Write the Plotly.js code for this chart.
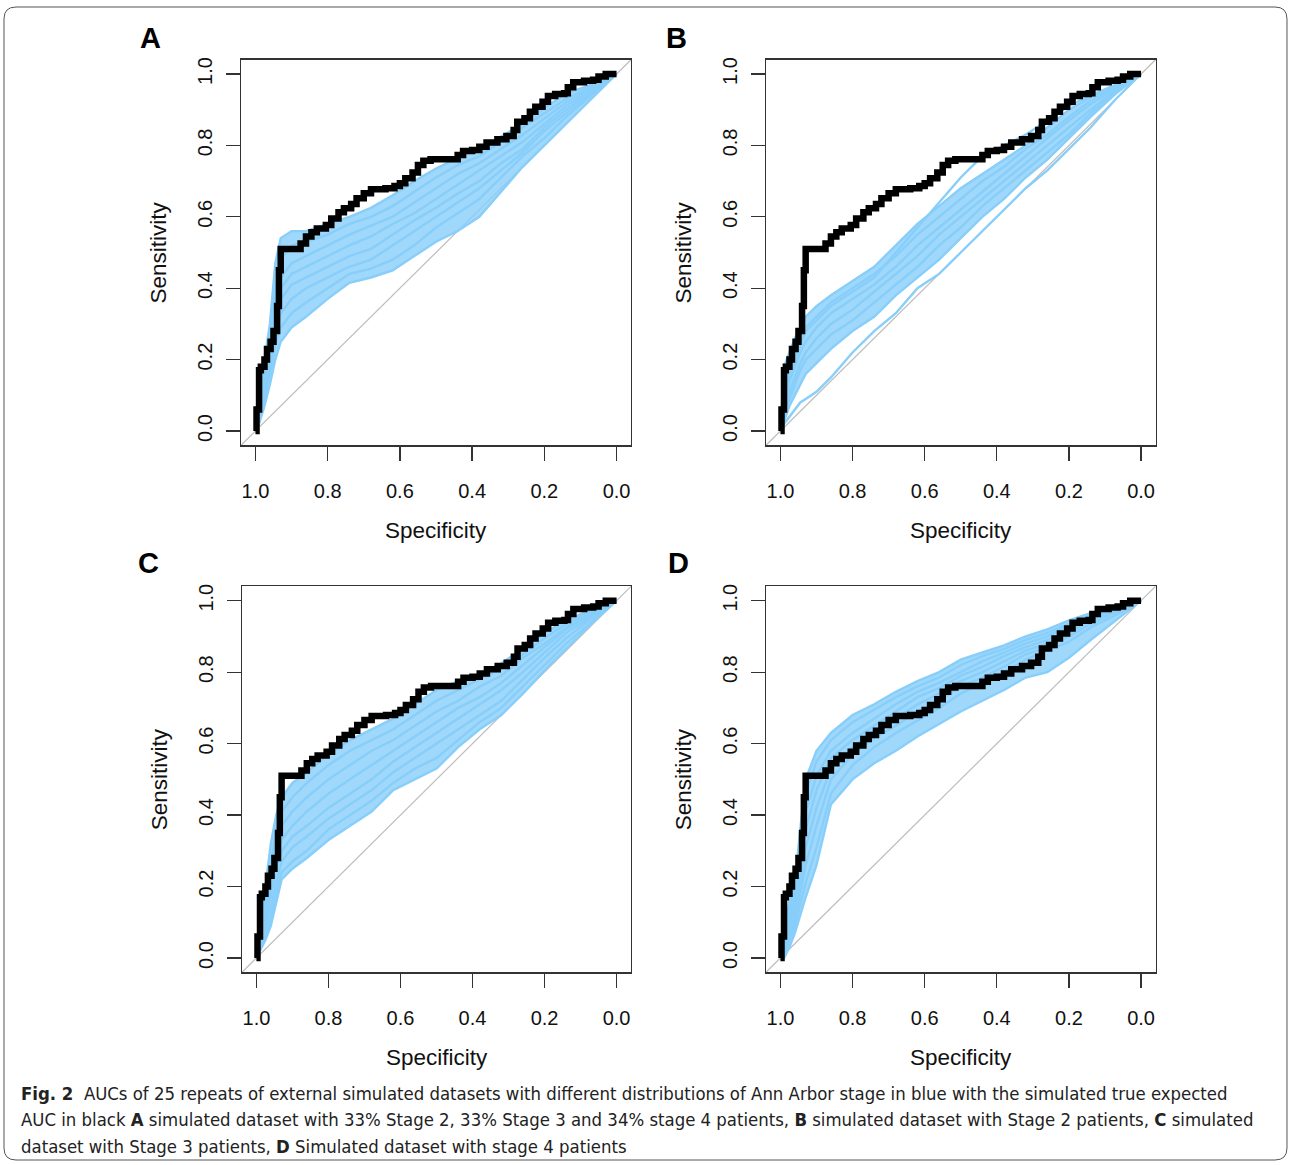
<!DOCTYPE html>
<html>
<head>
<meta charset="utf-8">
<script src="https://cdn.plot.ly/plotly-3.0.1.min.js"></script>
<style>
html,body{margin:0;padding:0;background:#fff;}
#chart{width:1290px;height:1165px;}
</style>
</head>
<body>
<div id="chart"></div>
<script>
// ---------- DATA ----------
const tickVals = [0, 0.2, 0.4, 0.6, 0.8, 1.0];
const tickLabels = ['0.0', '0.2', '0.4', '0.6', '0.8', '1.0'];
const panelLabels = ['A', 'B', 'C', 'D'];
const xTitle = 'Specificity';
const yTitle = 'Sensitivity';

// simulated true expected ROC (black) - same in every panel
const blackSpec = [1.0,0.997,0.99,0.985,0.975,0.968,0.958,0.95,0.94,0.935,0.93,0.89,0.875,0.86,0.845,0.83,0.805,0.79,0.77,0.755,0.735,0.72,0.70,0.68,0.64,0.615,0.60,0.585,0.565,0.55,0.535,0.515,0.465,0.44,0.425,0.40,0.38,0.36,0.33,0.305,0.285,0.275,0.255,0.24,0.225,0.205,0.19,0.17,0.145,0.135,0.12,0.09,0.065,0.05,0.03,0.0];
const blackSens = [0.0,0.06,0.17,0.18,0.20,0.23,0.25,0.28,0.35,0.45,0.51,0.51,0.525,0.545,0.557,0.567,0.577,0.595,0.613,0.624,0.636,0.652,0.666,0.677,0.68,0.686,0.694,0.708,0.724,0.745,0.757,0.761,0.761,0.773,0.784,0.787,0.796,0.808,0.817,0.826,0.843,0.866,0.876,0.894,0.908,0.922,0.938,0.944,0.946,0.963,0.977,0.981,0.984,0.993,1.0,1.0];

// specificity positions at which the simulated (blue) curves were read
const specGrid = [1.00,0.99,0.975,0.96,0.945,0.93,0.90,0.86,0.80,0.74,0.68,0.62,0.56,0.50,0.44,0.38,0.32,0.26,0.20,0.14,0.07,0.00];

// Panel A: 33% Stage 2, 33% Stage 3, 34% Stage 4
const sensA = [
 [0,.11,.20,.30,.47,.54,.56,.56,.58,.60,.625,.66,.70,.735,.765,.79,.825,.86,.905,.945,.97,1],
 [0,.08,.17,.26,.40,.48,.52,.53,.55,.58,.60,.63,.67,.71,.745,.77,.81,.85,.89,.93,.965,1],
 [0,.06,.15,.24,.36,.43,.47,.49,.52,.55,.575,.60,.64,.68,.72,.75,.79,.83,.875,.92,.96,1],
 [0,.05,.13,.22,.33,.40,.44,.46,.49,.52,.545,.58,.61,.65,.69,.73,.77,.81,.86,.91,.955,1],
 [0,.04,.12,.20,.30,.37,.41,.43,.46,.49,.51,.55,.59,.625,.665,.70,.75,.79,.85,.90,.95,1],
 [0,.03,.10,.18,.27,.33,.37,.40,.43,.46,.48,.52,.56,.60,.64,.68,.73,.78,.84,.89,.945,1],
 [0,.03,.09,.16,.24,.29,.33,.36,.40,.44,.455,.48,.52,.57,.61,.65,.71,.77,.82,.88,.94,1],
 [0,.02,.07,.13,.20,.25,.29,.32,.37,.415,.43,.45,.49,.53,.56,.60,.67,.74,.80,.86,.93,1]
];
// Panel B: Stage 2 patients
const sensB = [
 [0,.18,.22,.26,.29,.32,.35,.38,.42,.46,.52,.58,.63,.68,.72,.76,.80,.85,.90,.935,.97,1],
 [0,.12,.18,.22,.26,.29,.32,.36,.40,.44,.49,.55,.60,.65,.70,.74,.79,.83,.88,.925,.965,1],
 [0,.08,.14,.18,.22,.25,.29,.33,.37,.41,.46,.52,.57,.62,.67,.72,.77,.82,.87,.915,.96,1],
 [0,.06,.11,.15,.19,.22,.26,.30,.34,.39,.44,.49,.55,.60,.65,.70,.75,.80,.85,.90,.955,1],
 [0,.05,.09,.13,.17,.20,.23,.27,.31,.36,.41,.46,.52,.57,.63,.68,.73,.78,.83,.89,.95,1],
 [0,.03,.07,.10,.13,.16,.19,.23,.28,.32,.38,.43,.48,.54,.60,.65,.71,.76,.82,.88,.945,1]
];
const sensBextra = [
 [0,.02,.04,.06,.08,.09,.11,.15,.22,.28,.33,.40,.44,.50,.56,.62,.68,.73,.79,.85,.93,1],
 [0,.10,.16,.20,.24,.28,.31,.35,.39,.43,.50,.57,.64,.71,.77,.80,.83,.87,.91,.94,.97,1]
];
// Panel C: Stage 3 patients
const sensC = [
 [0,.10,.20,.32,.40,.45,.49,.52,.57,.61,.64,.67,.71,.75,.775,.795,.825,.865,.91,.945,.975,1],
 [0,.08,.17,.27,.36,.41,.45,.49,.54,.58,.61,.64,.68,.72,.75,.78,.81,.85,.895,.935,.97,1],
 [0,.07,.14,.23,.32,.37,.41,.45,.50,.54,.58,.61,.65,.69,.72,.76,.79,.84,.88,.925,.965,1],
 [0,.06,.12,.20,.28,.33,.37,.41,.46,.50,.54,.58,.62,.66,.70,.73,.77,.82,.87,.92,.96,1],
 [0,.05,.10,.17,.25,.30,.34,.37,.42,.46,.50,.55,.59,.63,.67,.71,.75,.80,.855,.91,.955,1],
 [0,.04,.08,.14,.21,.27,.31,.34,.39,.43,.47,.52,.56,.60,.64,.68,.72,.78,.84,.895,.95,1],
 [0,.03,.06,.11,.18,.24,.27,.30,.36,.40,.44,.49,.53,.56,.61,.66,.70,.76,.82,.88,.94,1],
 [0,.02,.05,.09,.16,.22,.25,.28,.33,.37,.41,.47,.50,.53,.59,.64,.68,.74,.805,.865,.935,1]
];
// Panel D: Stage 4 patients
const sensD = [
 [0,.08,.16,.21,.36,.50,.58,.63,.68,.71,.745,.775,.80,.835,.855,.875,.90,.92,.945,.965,.985,1],
 [0,.06,.13,.19,.32,.46,.55,.61,.66,.695,.73,.76,.785,.82,.845,.865,.89,.91,.935,.96,.98,1],
 [0,.05,.11,.17,.28,.41,.51,.58,.63,.67,.71,.745,.77,.80,.83,.855,.88,.90,.93,.955,.978,1],
 [0,.04,.09,.15,.25,.36,.47,.56,.61,.65,.69,.73,.755,.79,.815,.845,.87,.89,.92,.95,.975,1],
 [0,.03,.08,.13,.21,.31,.42,.53,.59,.635,.67,.71,.74,.775,.80,.83,.86,.88,.91,.945,.972,1],
 [0,.02,.06,.11,.18,.26,.37,.50,.57,.615,.65,.69,.72,.76,.785,.815,.85,.87,.90,.935,.968,1],
 [0,.01,.05,.09,.15,.21,.31,.46,.54,.59,.63,.665,.70,.74,.77,.80,.835,.86,.885,.925,.96,1],
 [0,0,.03,.07,.12,.17,.26,.43,.50,.545,.58,.62,.655,.69,.72,.75,.785,.80,.84,.89,.945,1]
];

const captionLines = [
 '<b>Fig. 2</b>  AUCs of 25 repeats of external simulated datasets with different distributions of Ann Arbor stage in blue with the simulated true expected',
 'AUC in black <b>A</b> simulated dataset with 33% Stage 2, 33% Stage 3 and 34% stage 4 patients, <b>B</b> simulated dataset with Stage 2 patients, <b>C</b> simulated',
 'dataset with Stage 3 patients, <b>D</b> Simulated dataset with stage 4 patients'
];

// ---------- LAYOUT / DRAW ----------
const W = 1290, H = 1165;
const px = v => v / W;
const py = v => 1 - v / H;
const BLUE = '#87CEFA';
const FONT = 'Liberation Sans, Arial, Helvetica, sans-serif';

const panels = [
  {band: sensA, extra: [], xd: [px(241), px(631)], yd: [py(445.3), py(59.7)], lab: [150, 38], top: true},
  {band: sensB, extra: sensBextra, xd: [px(766), px(1155.5)], yd: [py(445.3), py(59.7)], lab: [676, 38], top: true},
  {band: sensC, extra: [], xd: [px(242), px(631)], yd: [py(972.3), py(586.4)], lab: [148, 563], top: false},
  {band: sensD, extra: [], xd: [px(766), px(1155.5)], yd: [py(972.3), py(586.4)], lab: [678, 563], top: false}
];

const traces = [];
const layout = {
  width: W, height: H,
  margin: {l: 0, r: 0, t: 0, b: 0},
  paper_bgcolor: '#fff', plot_bgcolor: '#fff',
  showlegend: false,
  font: {family: FONT, color: '#111'},
  annotations: [], shapes: []
};

panels.forEach((p, i) => {
  const n = i + 1;
  const xk = n === 1 ? 'x' : 'x' + n;
  const yk = n === 1 ? 'y' : 'y' + n;
  const xa = n === 1 ? 'xaxis' : 'xaxis' + n;
  const ya = n === 1 ? 'yaxis' : 'yaxis' + n;
  const common = {
    tickmode: 'array', tickvals: tickVals, ticktext: tickLabels,
    ticks: 'outside', ticklen: 14, tickwidth: 1.3, tickcolor: '#333',
    tickfont: {family: FONT, size: 20, color: '#111'},
    showline: true, mirror: true, linecolor: '#333', linewidth: 1.3,
    showgrid: false, zeroline: false, fixedrange: true
  };
  layout[xa] = Object.assign({}, common, {domain: p.xd, range: [1.04, -0.04], anchor: yk, ticklabelstandoff: 13});
  layout[ya] = Object.assign({}, common, {domain: p.yd, range: [-0.04, 1.04], anchor: xk, tickangle: -90, ticklabelstandoff: 6});

  // diagonal reference
  layout.shapes.push({type: 'line', xref: xk + ' domain', yref: yk + ' domain', x0: 0, y0: 0, x1: 1, y1: 1,
    line: {color: '#bdbdbd', width: 1.2}, layer: 'below'});

  // band fill between the lowest and highest of the read curves
  const hi = specGrid.map((_, k) => Math.max(...p.band.map(c => c[k])));
  const lo = specGrid.map((_, k) => Math.min(...p.band.map(c => c[k])));
  traces.push({x: specGrid.concat(specGrid.slice().reverse()), y: hi.concat(lo.slice().reverse()),
    xaxis: xk, yaxis: yk, type: 'scatter', mode: 'lines', fill: 'toself',
    fillcolor: 'rgba(135,206,250,0.8)', line: {width: 0}, hoverinfo: 'skip'});
  p.band.concat(p.extra).forEach(c => {
    traces.push({x: specGrid, y: c, xaxis: xk, yaxis: yk, type: 'scatter', mode: 'lines',
      line: {color: BLUE, width: 2.4}, hoverinfo: 'skip'});
  });
  traces.push({x: blackSpec, y: blackSens, xaxis: xk, yaxis: yk, type: 'scatter', mode: 'lines',
    line: {color: '#000', width: 6.5, shape: 'hv'}, hoverinfo: 'skip'});

  // axis titles
  layout.annotations.push({text: xTitle, xref: xk, x: 0.5, yref: 'paper', y: py(p.top ? 531 : 1057),
    showarrow: false, xanchor: 'center', yanchor: 'middle', font: {family: FONT, size: 22.5, color: '#111'}});
  const yCenter = p.xd[0] * W - 83;
  layout.annotations.push({text: yTitle, xref: 'paper', x: px(yCenter), yref: yk, y: 0.5, textangle: -90,
    showarrow: false, xanchor: 'center', yanchor: 'middle', font: {family: FONT, size: 22.5, color: '#111'}});
  // panel letter
  layout.annotations.push({text: '<b>' + panelLabels[i] + '</b>', xref: 'paper', yref: 'paper',
    x: px(p.lab[0]), y: py(p.lab[1]), showarrow: false, xanchor: 'center', yanchor: 'middle',
    font: {family: FONT, size: 29, color: '#000'}});
});

// caption
const capY = [1093, 1119, 1146];
captionLines.forEach((t, k) => {
  layout.annotations.push({text: t, xref: 'paper', yref: 'paper', x: px(19), y: py(capY[k]),
    xanchor: 'left', yanchor: 'middle', showarrow: false, align: 'left',
    font: {family: 'DejaVu Sans Condensed, Open Sans, sans-serif', size: 18.4, color: '#222'}});
});

// rounded outer frame
(function () {
  const l = 4, t = 7, r = 1287, b = 1160, rad = 12;
  const X = v => px(v).toFixed(5), Y = v => py(v).toFixed(5);
  const path = `M ${X(l + rad)} ${Y(t)} L ${X(r - rad)} ${Y(t)} Q ${X(r)} ${Y(t)} ${X(r)} ${Y(t + rad)} ` +
    `L ${X(r)} ${Y(b - rad)} Q ${X(r)} ${Y(b)} ${X(r - rad)} ${Y(b)} L ${X(l + rad)} ${Y(b)} ` +
    `Q ${X(l)} ${Y(b)} ${X(l)} ${Y(b - rad)} L ${X(l)} ${Y(t + rad)} Q ${X(l)} ${Y(t)} ${X(l + rad)} ${Y(t)} Z`;
  layout.shapes.push({type: 'path', xref: 'paper', yref: 'paper', path: path,
    line: {color: '#555', width: 1}, fillcolor: 'rgba(0,0,0,0)', layer: 'above'});
})();

Plotly.newPlot('chart', traces, layout, {staticPlot: true, displayModeBar: false});
</script>
</body>
</html>
